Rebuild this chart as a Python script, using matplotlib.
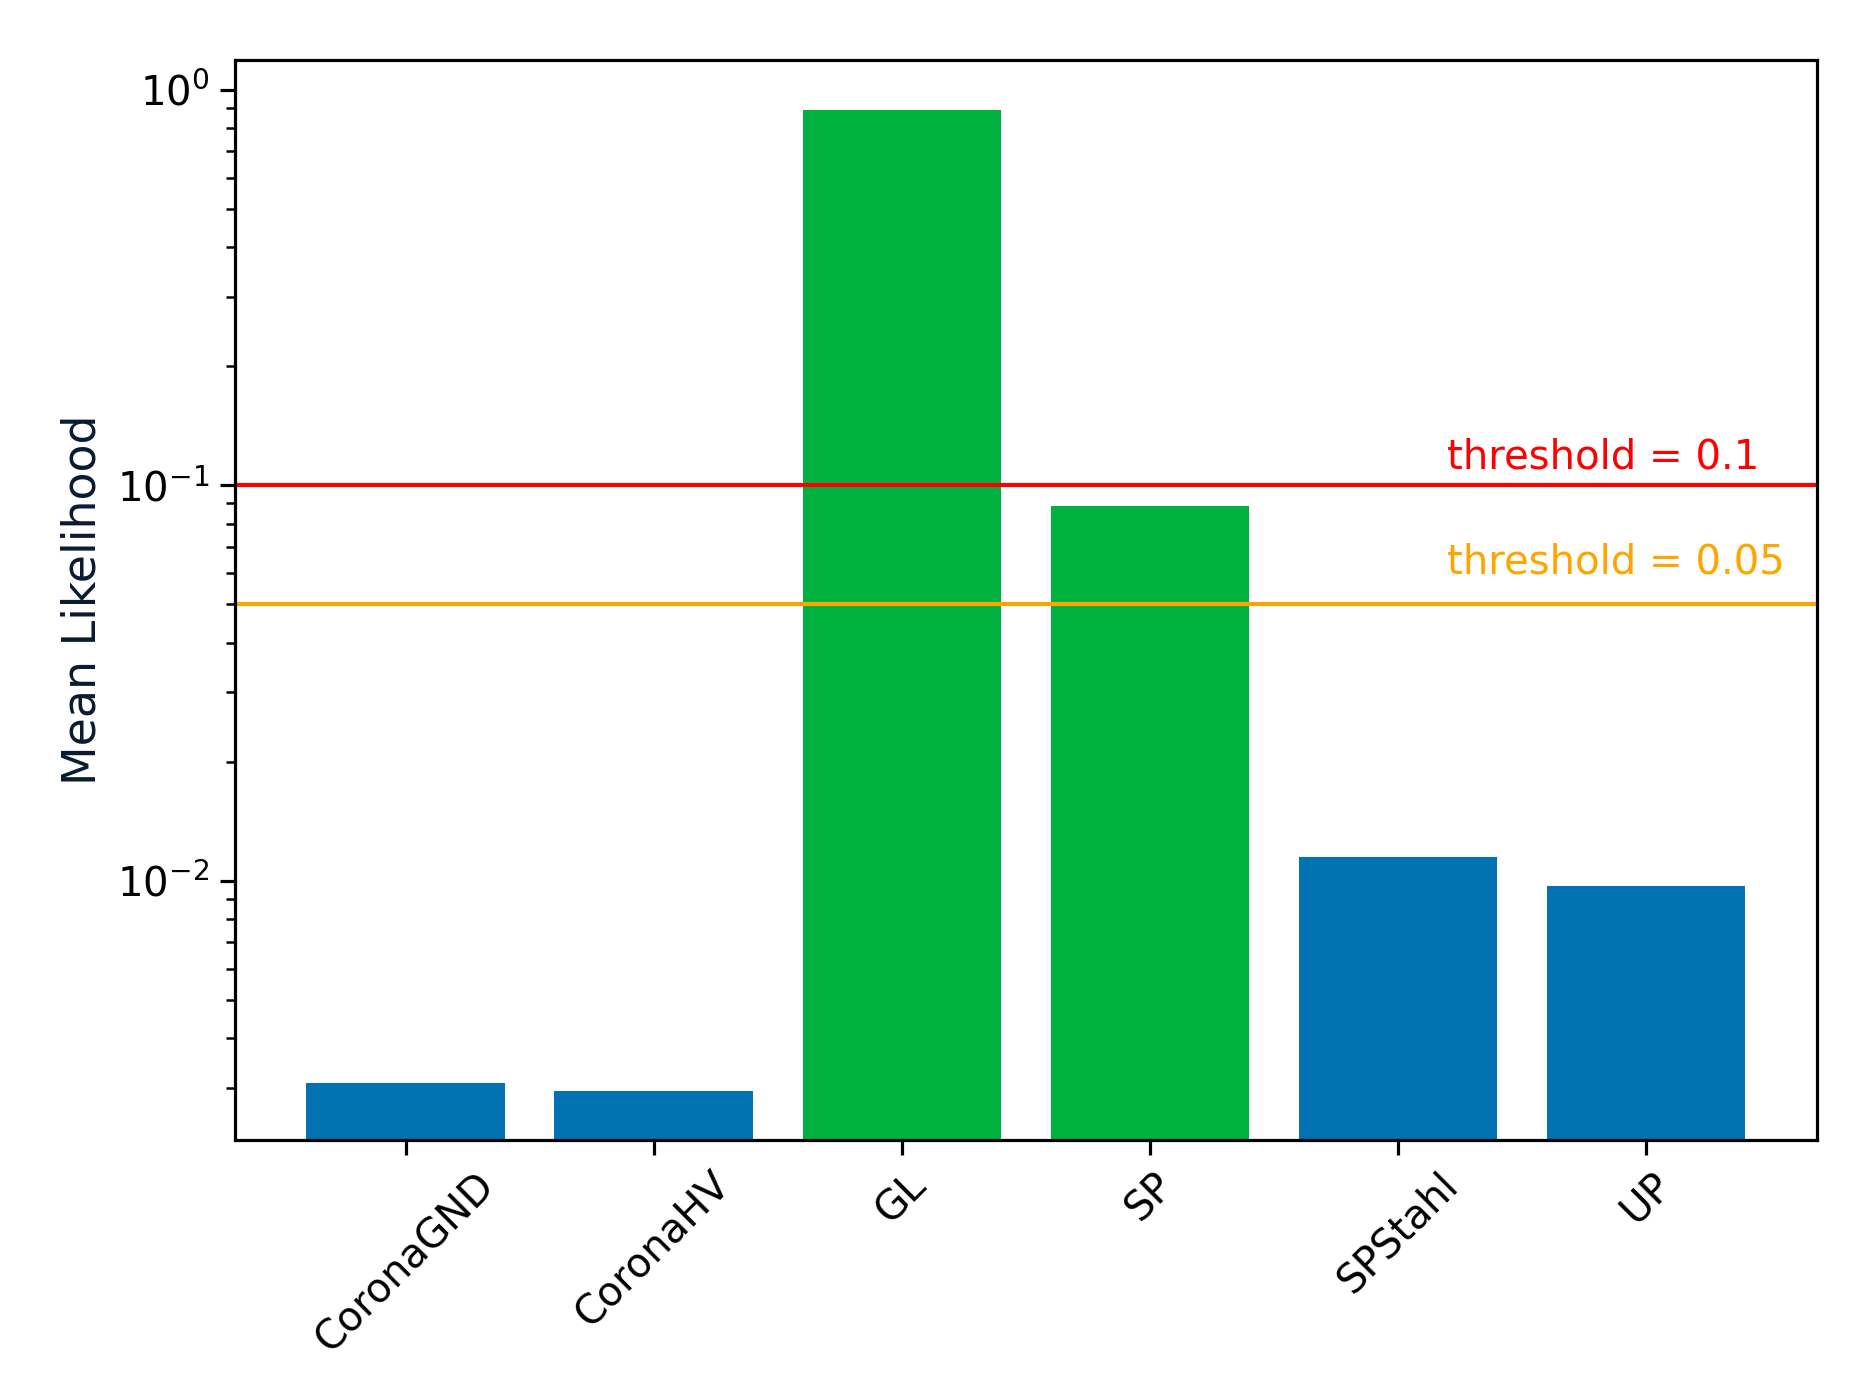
import numpy as np
import matplotlib
matplotlib.use("Agg")
import matplotlib.pyplot as plt

classes = ['CoronaGND', 'CoronaHV', 'GL', 'SP', 'SPStahl', 'UP']
mean_lh = [0.00308, 0.00294, 0.888, 0.0889, 0.0115, 0.00972]
above = [False, False, True, True, False, False]
thresholds = [0.1, 0.05]
thr_colors = ['red', 'orange']
thr_text_y = [0.11, 0.06]

plt.rcParams['font.size'] = 14.5
plt.rcParams['axes.linewidth'] = 1.15
plt.rcParams['xtick.major.size'] = 5.5
plt.rcParams['ytick.major.size'] = 5.5
plt.rcParams['ytick.minor.size'] = 3.3
plt.rcParams['xtick.major.width'] = 1.15
plt.rcParams['ytick.major.width'] = 1.15
plt.rcParams['ytick.minor.width'] = 0.9

fig = plt.figure(figsize=(9.38, 6.955), dpi=200)
ax = fig.add_axes([0.125, 0.1804, 0.8436, 0.7765])

cols = ['#00b140' if a else '#0173b2' for a in above]
x = np.arange(len(classes))
ax.bar(x, mean_lh, width=0.8, color=cols)
ax.set_yscale('log')
ax.set_ylim(0.00221, 1.19)

for t, c, ty in zip(thresholds, thr_colors, thr_text_y):
    ax.axhline(t, color=c, lw=1.5)
    ax.text(4.2, ty, 'threshold = %s' % t, color=c)

ax.set_xticks(x)
ax.set_xticklabels(classes, rotation=45)
ax.set_ylabel('Mean Likelihood', fontsize=16.5, color='#0a1a30')

fig.savefig('out.png', dpi=200)
